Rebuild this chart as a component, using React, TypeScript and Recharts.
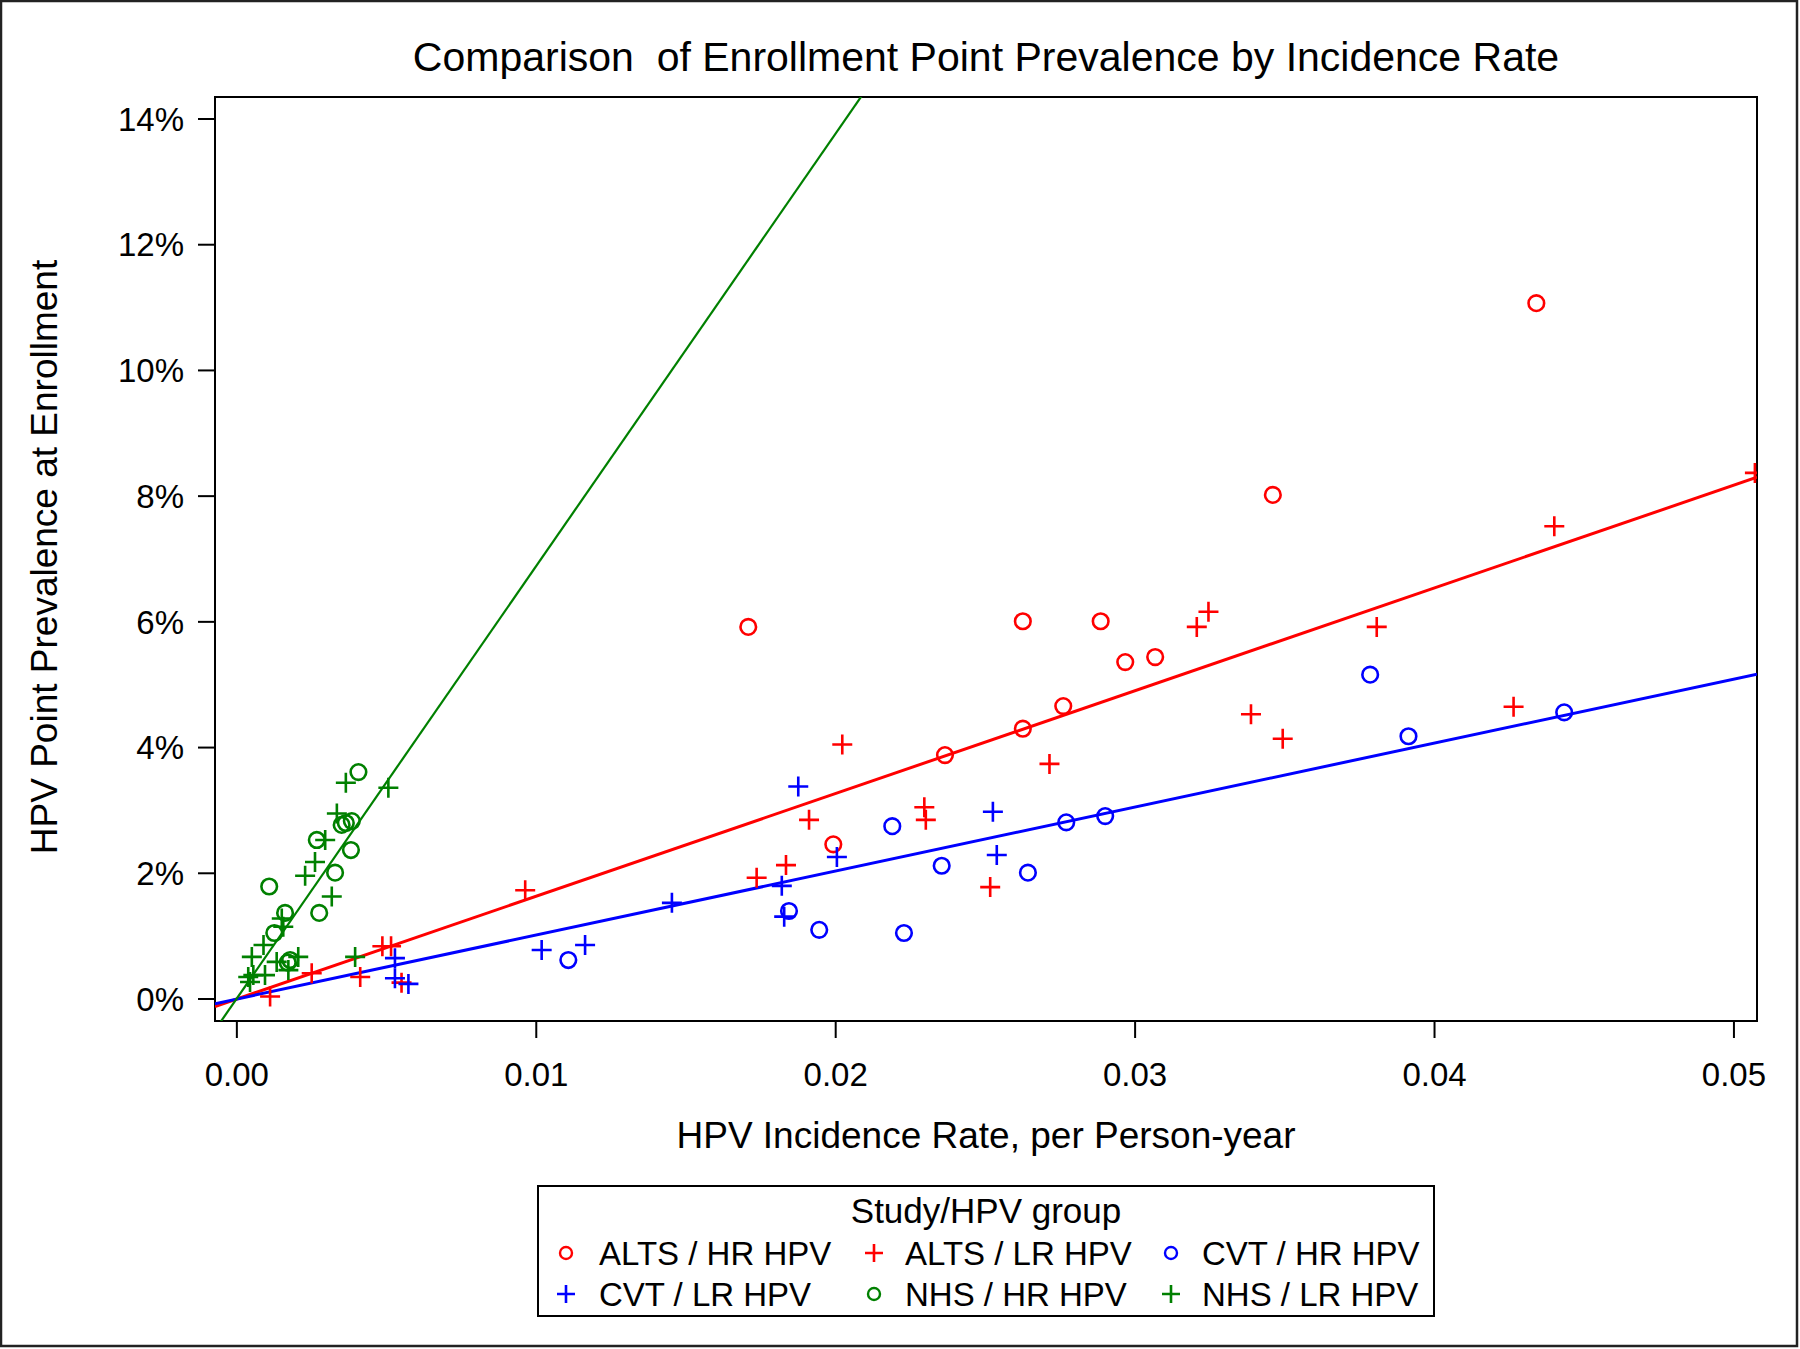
import React from 'react';
import { ScatterChart, Scatter, XAxis, YAxis, ReferenceLine, ReferenceArea } from 'recharts';

// ---------- data (x = incidence rate per person-year, y = prevalence %) ----------
const altsHR: [number, number][] = [
  [0.01708, 5.92], [0.01992, 2.46], [0.02365, 3.88], [0.02625, 6.01], [0.02625, 4.30],
  [0.0276, 4.66], [0.02885, 6.01], [0.02967, 5.36], [0.03067, 5.44], [0.0346, 8.02], [0.0434, 11.07],
];
const altsLR: [number, number][] = [
  [0.00111, 0.04], [0.0025, 0.41], [0.00412, 0.35], [0.00486, 0.84], [0.00515, 0.84], [0.0055, 0.26],
  [0.00963, 1.73], [0.01736, 1.93], [0.01834, 2.13], [0.01911, 2.85], [0.02022, 4.05], [0.02296, 3.05],
  [0.02301, 2.85], [0.02516, 1.78], [0.02714, 3.74], [0.03206, 5.92], [0.03245, 6.16], [0.03387, 4.53],
  [0.03493, 4.14], [0.03807, 5.92], [0.04264, 4.65], [0.044, 7.52], [0.0507, 8.37],
];
const cvtHR: [number, number][] = [
  [0.01107, 0.62], [0.01844, 1.40], [0.01945, 1.10], [0.02189, 2.75], [0.02228, 1.05], [0.02354, 2.12],
  [0.02642, 2.01], [0.0277, 2.81], [0.029, 2.91], [0.03785, 5.16], [0.03913, 4.18], [0.04433, 4.56],
];
const cvtLR: [number, number][] = [
  [0.00528, 0.65], [0.00528, 0.33], [0.00573, 0.24], [0.01018, 0.78], [0.01163, 0.86], [0.01453, 1.53],
  [0.0182, 1.80], [0.01828, 1.31], [0.01875, 3.38], [0.02004, 2.26], [0.02525, 2.98], [0.02538, 2.29],
];
const nhsHR: [number, number][] = [
  [0.00406, 3.61], [0.0035, 2.77], [0.00364, 2.80], [0.00384, 2.83], [0.00267, 2.53], [0.00381, 2.37],
  [0.00328, 2.01], [0.00108, 1.79], [0.00275, 1.37], [0.00161, 1.37], [0.00125, 1.05], [0.00178, 0.62],
  [0.0017, 0.58],
];
const nhsLR: [number, number][] = [
  [0.00364, 3.44], [0.00506, 3.36], [0.00334, 2.95], [0.00295, 2.53], [0.00261, 2.18], [0.00228, 1.96],
  [0.00317, 1.63], [0.0015, 1.28], [0.00155, 1.15], [0.00395, 0.67], [0.00205, 0.67], [0.00089, 0.86],
  [0.0005, 0.67], [0.00133, 0.59], [0.00038, 0.35], [0.00055, 0.38], [0.00094, 0.38], [0.00172, 0.46],
  [0.00044, 0.27],
];

// fitted lines: prevalence % = intercept + slope * rate
const fitStudies = ['ALTS', 'CVT', 'NHS'];
const fitSlopes = [163.5, 101.8, 688];
const fitIntercepts = [0.0, 0.0, 0.01];

const xTicks = [0, 0.01, 0.02, 0.03, 0.04, 0.05];
const yTicks = [0, 2, 4, 6, 8, 10, 12, 14];
const X_MIN = -0.00073;
const X_MAX = 0.05077;
const Y_MIN = -0.35;
const Y_MAX = 14.35;

const legendLabels = [
  'ALTS / HR HPV', 'ALTS / LR HPV', 'CVT / HR HPV',
  'CVT / LR HPV', 'NHS / HR HPV', 'NHS / LR HPV',
];

// ---------- styling ----------
const FONT = '"Liberation Sans", Arial, Helvetica, sans-serif';
const RED = '#ff0000';
const BLUE = '#0000ff';
const GREEN = '#008000';
const fitColors = [RED, BLUE, GREEN];
const fitWidths = [3, 3, 2.2];

const toPts = (arr: [number, number][]) => arr.map(([x, y]) => ({ x, y }));

const circleShape = (color: string) => (p: any) => (
  <circle cx={p.cx} cy={p.cy} r={7.8} fill="none" stroke={color} strokeWidth={2.6} />
);
const plusShape = (color: string) => (p: any) => (
  <path
    d={`M${p.cx - 10},${p.cy}H${p.cx + 10}M${p.cx},${p.cy - 10}V${p.cy + 10}`}
    stroke={color}
    strokeWidth={2.6}
    fill="none"
  />
);

const series = [
  { name: legendLabels[0], data: altsHR, color: RED, kind: 'o' },
  { name: legendLabels[1], data: altsLR, color: RED, kind: '+' },
  { name: legendLabels[2], data: cvtHR, color: BLUE, kind: 'o' },
  { name: legendLabels[3], data: cvtLR, color: BLUE, kind: '+' },
  { name: legendLabels[4], data: nhsHR, color: GREEN, kind: 'o' },
  { name: legendLabels[5], data: nhsLR, color: GREEN, kind: '+' },
];

const W = 1800;
const H = 1349;

function LegendMarker({ kind, color, x, y }: { kind: string; color: string; x: number; y: number }) {
  if (kind === 'o') return <circle cx={x} cy={y} r={6} fill="none" stroke={color} strokeWidth={2.4} />;
  return (
    <path d={`M${x - 9},${y}H${x + 9}M${x},${y - 9}V${y + 9}`} stroke={color} strokeWidth={2.6} fill="none" />
  );
}

export default function App() {
  const colMarkerX = [566, 874, 1171];
  const colTextX = [599, 905, 1202];
  const rowBase = [1265, 1306];

  return (
    <div style={{ position: 'absolute', left: 0, top: 0, width: W, height: H, background: '#fff' }}>
      <ScatterChart width={W} height={H} margin={{ top: 97, right: 43, bottom: 268, left: 0 }}>
        <XAxis
          type="number"
          dataKey="x"
          domain={[X_MIN, X_MAX]}
          allowDataOverflow
          ticks={xTicks}
          interval={0}
          height={60}
          tickFormatter={(v: number) => v.toFixed(2)}
          axisLine={false}
          tickSize={17}
          tickMargin={25}
          tickLine={{ stroke: '#000', strokeWidth: 2 }}
          tick={{ fill: '#000', fontSize: 33, fontFamily: FONT }}
        />
        <YAxis
          type="number"
          dataKey="y"
          domain={[Y_MIN, Y_MAX]}
          allowDataOverflow
          ticks={yTicks}
          interval={0}
          width={215}
          tickFormatter={(v: number) => `${v}%`}
          axisLine={false}
          tickSize={17}
          tickMargin={14}
          tickLine={{ stroke: '#000', strokeWidth: 2 }}
          tick={{ fill: '#000', fontSize: 33, fontFamily: FONT }}
        />
        {series.map((s) => (
          <Scatter
            key={s.name}
            name={s.name}
            data={toPts(s.data)}
            isAnimationActive={false}
            shape={s.kind === 'o' ? circleShape(s.color) : plusShape(s.color)}
          />
        ))}
        {fitStudies.map((st, i) => (
          <ReferenceLine
            key={st}
            segment={[
              { x: X_MIN, y: fitIntercepts[i] + fitSlopes[i] * X_MIN },
              { x: X_MAX, y: fitIntercepts[i] + fitSlopes[i] * X_MAX },
            ]}
            ifOverflow="hidden"
            stroke={fitColors[i]}
            strokeWidth={fitWidths[i]}
          />
        ))}
        <ReferenceArea
          x1={X_MIN}
          x2={X_MAX}
          y1={Y_MIN}
          y2={Y_MAX}
          fill="none"
          fillOpacity={0}
          stroke="#000"
          strokeWidth={2}
          ifOverflow="visible"
        />
      </ScatterChart>
      <svg
        width={W}
        height={H}
        style={{ position: 'absolute', left: 0, top: 0, pointerEvents: 'none' }}
        fontFamily={FONT}
      >
        <rect x={1} y={1} width={1796} height={1345} fill="none" stroke="#222" strokeWidth={2.5} />
        <text x={986} y={71} textAnchor="middle" fontSize={41} fill="#000" style={{ whiteSpace: 'pre' }}>
          {'Comparison  of Enrollment Point Prevalence by Incidence Rate'}
        </text>
        <text x={986} y={1148} textAnchor="middle" fontSize={37} fill="#000">
          HPV Incidence Rate, per Person-year
        </text>
        <text transform="translate(57,557) rotate(-90)" textAnchor="middle" fontSize={37} fill="#000">
          HPV Point Prevalence at Enrollment
        </text>
        <rect x={538} y={1186} width={896} height={130} fill="none" stroke="#000" strokeWidth={2} />
        <text x={986} y={1223} textAnchor="middle" fontSize={35} fill="#000">
          Study/HPV group
        </text>
        {series.map((s, i) => {
          const row = Math.floor(i / 3);
          const col = i % 3;
          return (
            <g key={s.name}>
              <LegendMarker kind={s.kind} color={s.color} x={colMarkerX[col]} y={rowBase[row] - 12} />
              <text x={colTextX[col]} y={rowBase[row]} fontSize={33} fill="#000">
                {s.name}
              </text>
            </g>
          );
        })}
      </svg>
    </div>
  );
}
